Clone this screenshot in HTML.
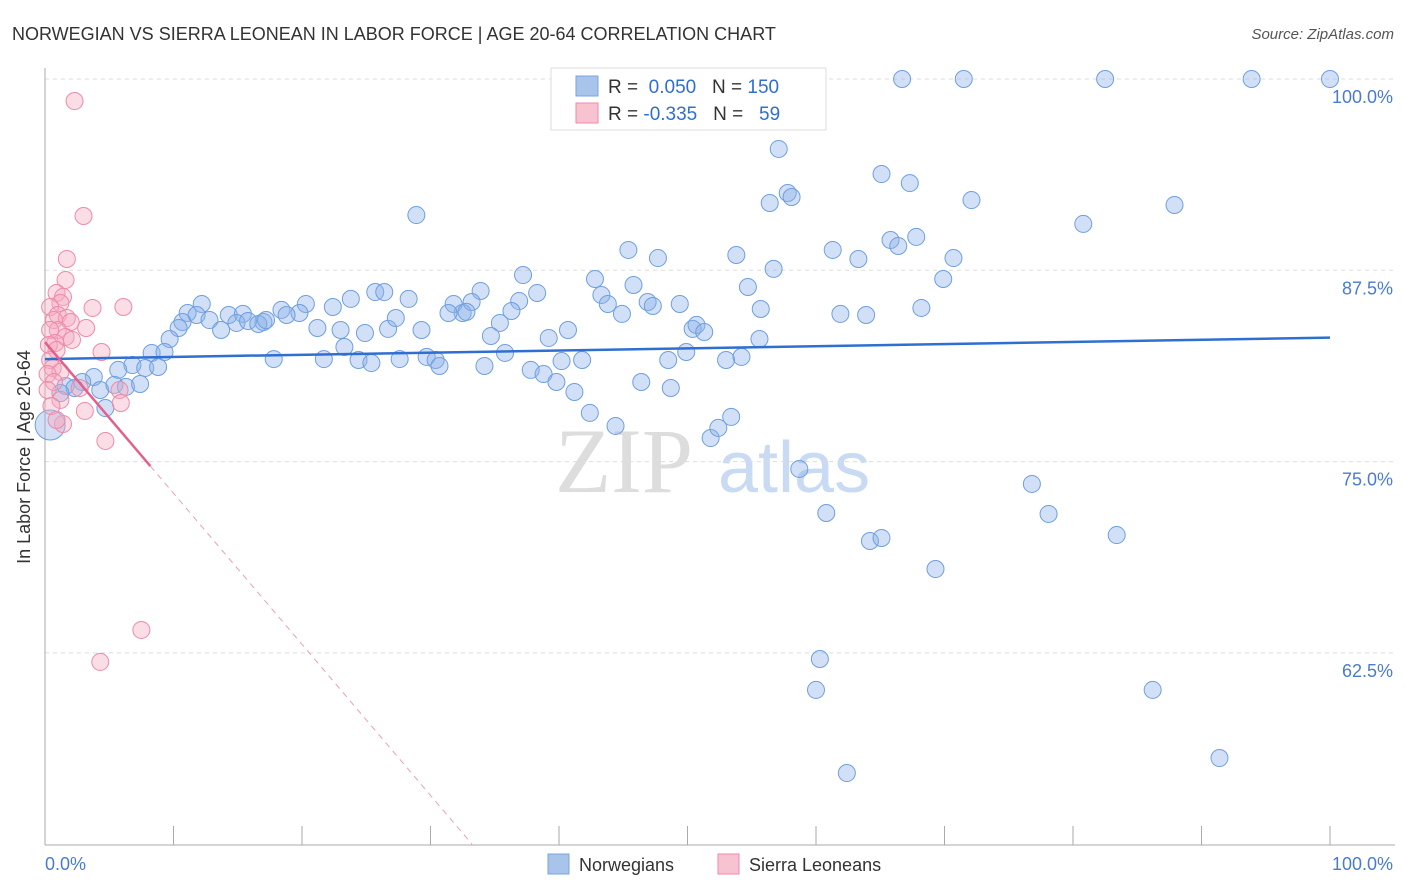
<!DOCTYPE html>
<html><head><meta charset="utf-8"><style>
body{margin:0;background:#fff;font-family:"Liberation Sans",sans-serif;}
svg{display:block}
</style></head><body>
<svg width="1406" height="892" viewBox="0 0 1406 892">
<text x="12" y="40" font-size="18" fill="#333">NORWEGIAN VS SIERRA LEONEAN IN LABOR FORCE | AGE 20-64 CORRELATION CHART</text>
<text x="1394" y="39" font-size="15" fill="#555" font-style="italic" text-anchor="end">Source: ZipAtlas.com</text>
<text x="555" y="492" font-size="92" fill="#ddd" font-family="Liberation Serif,serif">ZIP</text>
<text x="718" y="492" font-size="72" fill="#c9daf3">atlas</text>
<g id="grid"></g>
<line x1="45" y1="68" x2="45" y2="845" stroke="#aaa"/>
<line x1="45" y1="845" x2="1395" y2="845" stroke="#aaa"/>
<g id="xticks"></g>
<text x="30" y="457" font-size="18" fill="#333" text-anchor="middle" transform="rotate(-90 30 457)">In Labor Force | Age 20-64</text>
<text x="45" y="870" font-size="18" fill="#4a7bd0">0.0%</text>
<text x="1393" y="870" font-size="18" fill="#4a7bd0" text-anchor="end">100.0%</text>
<g id="pts"></g>
<g id="trends"></g>
<g>
<rect x="551" y="68" width="275" height="62" fill="#fff" stroke="#ddd"/>
<rect x="576" y="76" width="22" height="20" fill="#a9c4ea" stroke="#7aa5e0"/>
<rect x="576" y="103" width="22" height="20" fill="#f8c3d1" stroke="#ee8aa8"/>
<text x="608" y="93" font-size="19" fill="#333">R = <tspan fill="#2f6fd1">&#160;0.050</tspan>&#160;&#160;&#160;N = <tspan fill="#2f6fd1">150</tspan></text>
<text x="608" y="120" font-size="19" fill="#333">R = <tspan fill="#2f6fd1">-0.335</tspan>&#160;&#160;&#160;N = <tspan fill="#2f6fd1">&#160;&#160;59</tspan></text>
</g>
<g>
<rect x="548" y="854" width="21" height="20" fill="#a9c4ea" stroke="#7aa5e0"/>
<text x="579" y="871" font-size="18" fill="#333">Norwegians</text>
<rect x="718" y="854" width="21" height="20" fill="#f8c3d1" stroke="#ee8aa8"/>
<text x="749" y="871" font-size="18" fill="#333">Sierra Leoneans</text>
</g>
</svg>
<script>
const yTicks=[100,87.5,75,62.5];
const yTickLabels=["100.0%","87.5%","75.0%","62.5%"];
const xTicks=[0,10,20,30,40,50,60,70,80,90,100];
const norX=[66.7,71.5,82.5,93.9,100,57.1,56.4,57.8,58.1,65.1,67.3,72.1,87.9,80.8,28.9,45.4,47.7,53.8,56.7,61.3,63.3,65.8,66.4,67.8,70.7,69.9,37.2,42.8,45.8,38.3,33.9,43.3,43.8,44.9,46.9,47.3,49.4,55.7,54.7,61.9,63.9,68.2,23.8,25.7,26.4,28.3,20.3,22.4,18.4,19.8,18.8,17.0,14.3,15.4,12.2,11.1,11.8,10.7,10.4,12.8,13.7,14.9,15.8,16.6,17.2,21.2,23.0,24.9,26.7,27.3,29.3,31.8,32.5,33.2,32.8,31.4,36.9,36.3,35.4,34.7,39.2,40.7,50.4,50.7,51.3,55.6,9.7,8.3,9.3,6.8,7.8,8.8,5.7,3.8,2.9,1.6,2.3,1.2,4.3,5.4,6.3,7.4,4.7,17.8,21.7,23.3,24.4,25.4,27.6,29.7,30.4,30.7,34.2,35.8,37.8,38.8,39.8,40.2,41.8,41.2,42.4,44.4,46.4,48.5,48.7,49.9,53.0,54.2,51.8,52.4,53.4,58.7,60.8,64.2,65.1,69.3,76.8,78.1,83.4,60.3,60.0,62.4,86.2,91.4];
const norY=[100,100,100,100,100,95.43,91.9,92.55,92.29,93.79,93.2,92.09,91.77,90.53,91.11,88.83,88.3,88.5,87.59,88.83,88.24,89.48,89.09,89.68,88.3,86.93,87.19,86.93,86.54,86.02,86.15,85.89,85.3,84.65,85.43,85.17,85.3,84.97,86.41,84.65,84.58,85.04,85.63,86.08,86.08,85.63,85.3,85.1,84.91,84.71,84.58,84.12,84.58,84.65,85.3,84.71,84.58,84.12,83.73,84.25,83.6,84.06,84.19,83.99,84.25,83.73,83.6,83.4,83.67,84.38,83.6,85.3,84.71,85.43,84.78,84.71,85.49,84.84,84.06,83.21,83.08,83.6,83.67,83.93,83.47,83.01,83.01,82.1,82.16,81.31,81.12,81.18,80.99,80.53,80.2,79.94,79.81,79.48,79.68,80.01,79.88,80.07,78.5,81.7,81.7,82.49,81.64,81.44,81.7,81.84,81.64,81.25,81.25,82.1,80.99,80.72,80.2,81.57,81.64,79.55,78.18,77.33,80.2,81.64,79.81,82.16,81.64,81.84,76.54,77.2,77.92,74.52,71.64,69.81,70.01,67.98,73.54,71.58,70.2,62.1,60.08,54.65,60.08,55.63];
const sieX=[2.3,3.0,1.7,1.6,0.9,1.4,1.2,3.7,6.1,0.4,1.0,1.7,2.0,0.7,3.2,1.0,0.4,1.6,2.1,0.8,0.3,0.9,4.4,0.4,0.6,1.2,0.2,0.7,0.2,2.7,5.8,1.2,5.9,0.5,3.1,1.4,0.9,4.7,7.5,4.3];
const sieY=[98.56,91.05,88.24,86.87,86.02,85.76,85.36,85.04,85.1,85.1,84.58,84.38,84.12,84.25,83.73,83.6,83.6,83.14,82.95,82.75,82.62,82.29,82.16,81.64,81.12,80.86,80.72,80.2,79.68,79.81,79.68,79.03,78.83,78.63,78.31,77.46,77.72,76.35,64.0,61.91];
const norTrend=[81.7,83.1];
const sieTrend=[82.8,-0.987];
const NS="http://www.w3.org/2000/svg";
function xs(v){return 45+v*12.85;}
function ys(v){return 79+(100-v)*15.304;}
function mk(t,a,p){const e=document.createElementNS(NS,t);for(const k in a)e.setAttribute(k,a[k]);p.appendChild(e);return e;}
const grid=document.getElementById('grid');
yTicks.forEach((t,i)=>{
 const l=mk('line',{x1:45,x2:1395,y1:ys(t),y2:ys(t),stroke:'#ddd','stroke-dasharray':'4,4'},grid);
 
 
 const tx=mk('text',{x:1393,y:ys(t)+24,'font-size':18,fill:'#4a7bd0','text-anchor':'end'},grid);
 tx.textContent=yTickLabels[i];
 
 
});
const xt=document.getElementById('xticks');
xTicks.forEach(t=>{
 const l=mk('line',{x1:xs(t),x2:xs(t),y1:826,y2:845,stroke:'#aaa'},xt);
 
 
});
const pts=document.getElementById('pts');
norX.forEach((x,i)=>{
 const c=mk('circle',{cx:xs(x),cy:ys(norY[i]),r:8.5,fill:'rgba(140,178,232,0.4)',stroke:'#6f9fe0','stroke-width':1},pts);
 
 
});
const big=mk('circle',{cx:xs(0.4),cy:ys(77.39),r:15,fill:'rgba(140,178,232,0.4)',stroke:'#6f9fe0'},pts);


sieX.forEach((x,i)=>{
 const c=mk('circle',{cx:xs(x),cy:ys(sieY[i]),r:8.5,fill:'rgba(245,170,192,0.4)',stroke:'#ee8aa8','stroke-width':1},pts);
 
 
});
const tr=document.getElementById('trends');
const nl=mk('line',{x1:xs(0),y1:ys(norTrend[0]),x2:xs(100),y2:ys(norTrend[1]),stroke:'#2f6fd1','stroke-width':2.5},tr);


const sEnd=(50-sieTrend[0])/sieTrend[1];
const sl=mk('line',{x1:xs(0),y1:ys(sieTrend[0]),x2:xs(8.2),y2:ys(sieTrend[0]+sieTrend[1]*8.2),stroke:'#e4608a','stroke-width':2.5},tr);


const sd=mk('line',{x1:xs(8.2),y1:ys(sieTrend[0]+sieTrend[1]*8.2),x2:xs(sEnd),y2:ys(50),stroke:'#eaa0b8','stroke-width':1,'stroke-dasharray':'6,5'},tr);


</script>
</body></html>
